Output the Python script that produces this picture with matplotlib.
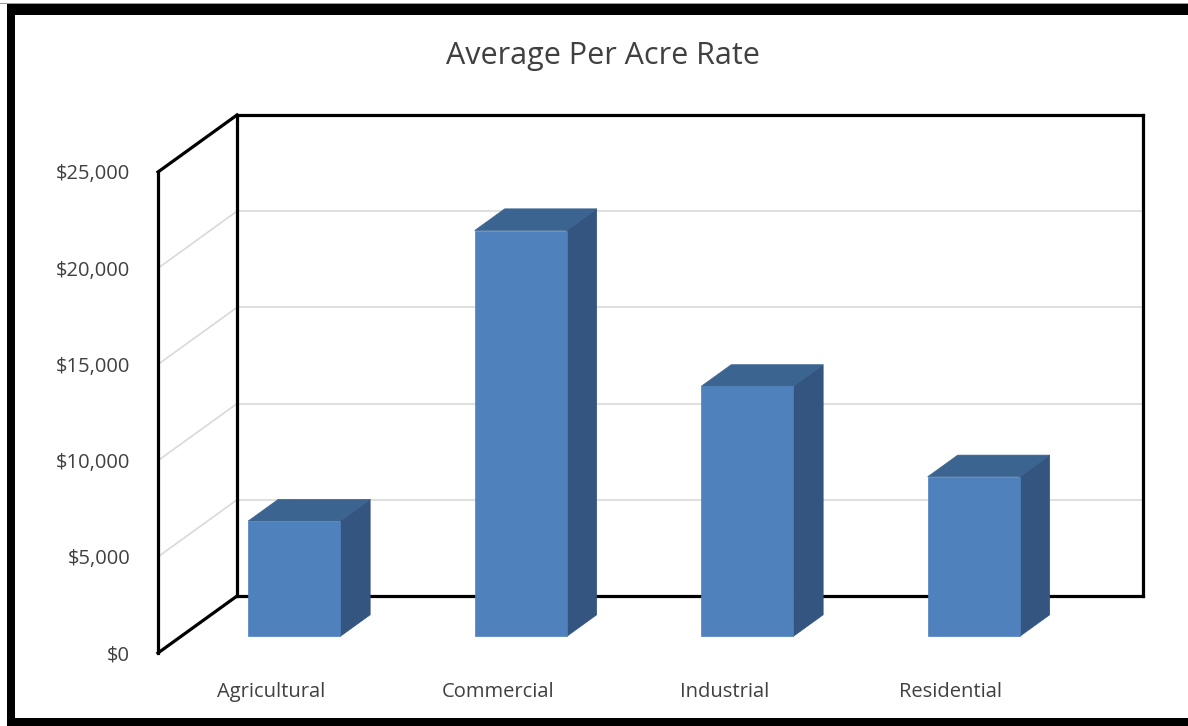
import matplotlib
matplotlib.use("Agg")
from matplotlib import pyplot as plt
from matplotlib.patches import Polygon, Rectangle

categories = ["Agricultural", "Commercial", "Industrial", "Residential"]
rates = [6000, 21100, 13000, 8300]
ticks = [0, 5000, 10000, 15000, 20000, 25000]
tick_labels = ["$0", "$5,000", "$10,000", "$15,000", "$20,000", "$25,000"]
title = "Average Per Acre Rate"

plt.rcParams['font.family'] = ['Open Sans', 'DejaVu Sans']
text_color = "#404040"

fig = plt.figure(figsize=(11.88, 7.26), dpi=100)
# front plane of the 3d box
ax = fig.add_axes([158 / 1188, 73 / 726, 906 / 1188, 481 / 726])
ymax = ticks[-1]
ax.set_xlim(-0.5, len(categories) - 0.5)
ax.set_ylim(0, ymax)

# oblique depth: one unit of depth in data units
DX = 79 / 906 * len(categories)
DY = 57 / 481 * ymax


def proj(x, y, z):
    return (x + z * DX, y + z * DY)


x0, x1 = -0.5, len(categories) - 0.5

# grid lines on back wall and left wall
for t in ticks[1:-1]:
    ax.plot(*zip(proj(x0, t, 1), proj(x1, t, 1)), color="#d9d9d9", lw=1.2, clip_on=False, zorder=1)
    ax.plot(*zip(proj(x0, t, 0), proj(x0, t, 1)), color="#d9d9d9", lw=1.2, clip_on=False, zorder=1)

# box edges
edges = [
    (proj(x0, 0, 1), proj(x1, 0, 1)),
    (proj(x1, 0, 1), proj(x1, ymax, 1)),
    (proj(x1, ymax, 1), proj(x0, ymax, 1)),
    (proj(x0, ymax, 1), proj(x0, 0, 1)),
    (proj(x0, 0, 0), proj(x0, ymax, 0)),
    (proj(x0, ymax, 0), proj(x0, ymax, 1)),
    (proj(x0, 0, 0), proj(x0, 0, 1)),
]
for a, b in edges:
    ax.plot([a[0], b[0]], [a[1], b[1]], color="black", lw=2.3,
            solid_capstyle="projecting", clip_on=False, zorder=2)

# 3d bars
w = 0.406
zf, zb = 0.29, 0.67
front_c, top_c, side_c = "#4f81bd", "#3b6491", "#33557f"
for i, v in enumerate(rates):
    l, r = i - w / 2, i + w / 2
    front = [proj(l, 0, zf), proj(r, 0, zf), proj(r, v, zf), proj(l, v, zf)]
    top = [proj(l, v, zf), proj(r, v, zf), proj(r, v, zb), proj(l, v, zb)]
    side = [proj(r, 0, zf), proj(r, 0, zb), proj(r, v, zb), proj(r, v, zf)]
    for pts, c in [(side, side_c), (top, top_c), (front, front_c)]:
        ax.add_patch(Polygon(pts, closed=True, facecolor=c, edgecolor=c,
                             lw=0.5, clip_on=False, zorder=3))

ax.set_xticks(range(len(categories)))
ax.set_xticklabels(categories)
ax.set_yticks(ticks)
ax.set_yticklabels(tick_labels)
ax.tick_params(axis="x", length=0, pad=21, labelsize=14.5, labelcolor=text_color)
ax.tick_params(axis="y", length=0, pad=20, labelsize=14.5, labelcolor=text_color)
for lab in ax.get_yticklabels():
    lab.set_verticalalignment("center_baseline")
for s in ax.spines.values():
    s.set_visible(False)
ax.patch.set_visible(False)

fig.text(603 / 1188, 1 - 56 / 726, title, ha="center", va="center",
         fontsize=22, color=text_color)

# outer black frame (right side is cut off)
fig.add_artist(Rectangle((0, 1 - 4 / 726), 1, 1 / 726, transform=fig.transFigure,
                         facecolor="#999999", edgecolor="none"))
fig.add_artist(Rectangle((7 / 1188, 0), 8 / 1188, 1 - 4 / 726, transform=fig.transFigure,
                         facecolor="black", edgecolor="none"))
fig.add_artist(Rectangle((7 / 1188, 1 - 15 / 726), 1, 11 / 726, transform=fig.transFigure,
                         facecolor="black", edgecolor="none"))
fig.add_artist(Rectangle((7 / 1188, 0), 1, 8 / 726, transform=fig.transFigure,
                         facecolor="black", edgecolor="none"))

fig.savefig("out.png", dpi=100)
